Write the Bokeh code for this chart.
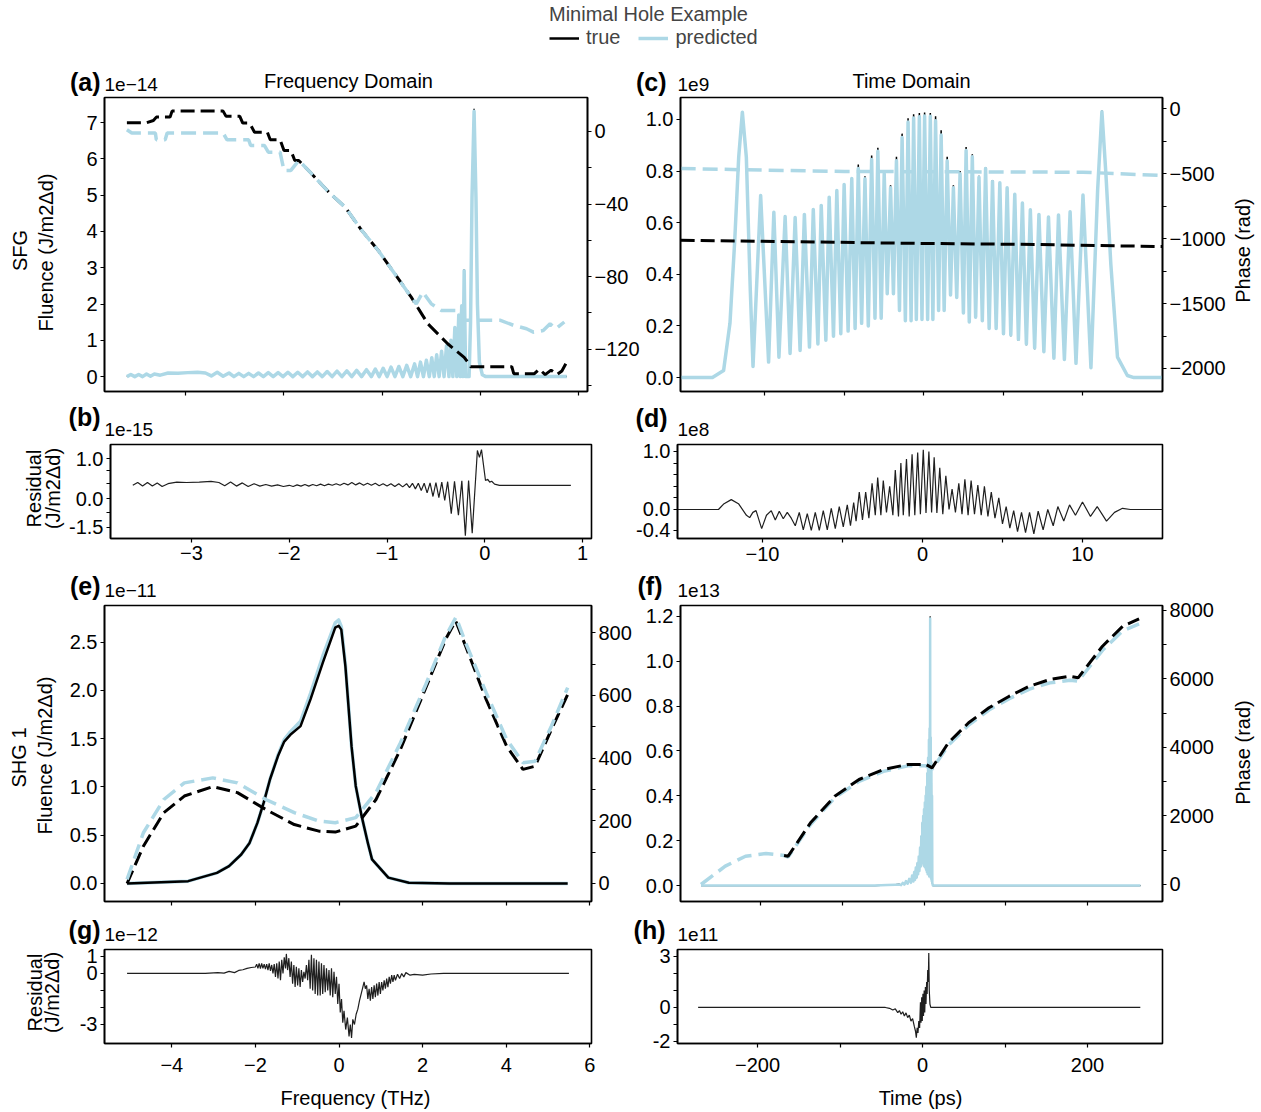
from math import pi
from bokeh.plotting import figure
from bokeh.models import Range1d, LinearAxis, FixedTicker, Label, Legend, LegendItem
from bokeh.layouts import column, row
from bokeh.embed import file_html
from bokeh.resources import INLINE

FONT = "Liberation Sans"
BLUE = "#add8e6"
BLACK = "#000000"
RES = "#1f1f1f"

# ---------------------------------------------------------------- data
# (a) SFG, frequency domain: (frequency THz, true, predicted) fluence x1e-14
SFG_FREQ_INTENSITY = [
    (-3.60, 0.00, 0.00), (-3.56, 0.06, 0.06), (-3.52, 0.00, 0.00), (-3.48, 0.06, 0.06),
    (-3.44, 0.00, 0.00), (-3.40, 0.07, 0.07), (-3.36, 0.01, 0.01), (-3.32, 0.07, 0.07),
    (-3.26, 0.04, 0.04), (-3.18, 0.10, 0.10), (-3.08, 0.09, 0.09), (-2.98, 0.11, 0.11),
    (-2.88, 0.12, 0.12), (-2.80, 0.10, 0.10), (-2.74, 0.02, 0.02), (-2.68, 0.12, 0.12),
    (-2.62, 0.01, 0.01), (-2.56, 0.10, 0.10), (-2.51, 0.00, 0.00), (-2.46, 0.09, 0.09),
    (-2.41, 0.00, 0.00), (-2.36, 0.09, 0.09), (-2.31, 0.00, 0.00), (-2.26, 0.10, 0.10),
    (-2.21, 0.00, 0.00), (-2.16, 0.11, 0.11), (-2.11, 0.00, 0.00), (-2.06, 0.11, 0.11),
    (-2.01, 0.00, 0.00), (-1.96, 0.12, 0.12), (-1.91, 0.00, 0.00), (-1.86, 0.12, 0.12),
    (-1.81, 0.00, 0.00), (-1.76, 0.13, 0.13), (-1.71, 0.00, 0.00), (-1.66, 0.13, 0.13),
    (-1.61, 0.00, 0.00), (-1.56, 0.14, 0.14), (-1.51, 0.00, 0.00), (-1.46, 0.15, 0.15),
    (-1.41, 0.00, 0.00), (-1.36, 0.16, 0.16), (-1.31, 0.00, 0.00), (-1.26, 0.17, 0.17),
    (-1.21, 0.00, 0.00), (-1.16, 0.19, 0.19), (-1.11, 0.00, 0.00), (-1.07, 0.21, 0.21),
    (-1.03, 0.00, 0.00), (-0.99, 0.23, 0.23), (-0.95, 0.00, 0.00), (-0.91, 0.26, 0.26),
    (-0.87, 0.00, 0.00), (-0.83, 0.28, 0.28), (-0.79, 0.00, 0.00), (-0.75, 0.31, 0.31),
    (-0.71, 0.00, 0.00), (-0.67, 0.35, 0.35), (-0.64, 0.00, 0.00), (-0.61, 0.40, 0.40),
    (-0.58, 0.00, 0.00), (-0.55, 0.45, 0.45), (-0.52, 0.00, 0.00), (-0.495, 0.52, 0.52),
    (-0.47, 0.00, 0.00), (-0.445, 0.60, 0.60), (-0.42, 0.00, 0.00), (-0.395, 0.70, 0.70),
    (-0.37, 0.00, 0.00), (-0.345, 0.86, 0.85), (-0.32, 0.00, 0.00), (-0.30, 1.02, 1.00),
    (-0.28, 0.00, 0.00), (-0.26, 1.37, 1.35), (-0.24, 0.00, 0.00), (-0.22, 1.72, 1.70),
    (-0.205, 0.00, 0.00), (-0.19, 1.97, 1.95), (-0.178, 0.00, 0.00), (-0.165, 2.96, 2.92),
    (-0.15, 0.00, 0.00), (-0.115, 0.00, 0.00), (-0.10, 1.50, 1.50), (-0.085, 5.00, 4.95),
    (-0.064, 7.38, 7.31), (-0.045, 5.00, 4.95), (-0.03, 2.00, 2.00), (-0.01, 0.40, 0.40),
    (0.02, 0.05, 0.05), (0.055, 0.00, 0.00), (0.88, 0.00, 0.00),
]
# (a) phase (rad): (frequency, phase)
SFG_FREQ_PHASE_TRUE = [
    (-3.60, 4.8), (-3.40, 4.8), (-3.33, 6.0), (-3.30, 7.9), (-3.16, 7.9), (-3.14, 11.2),
    (-2.62, 11.2), (-2.59, 8.3), (-2.45, 8.3), (-2.42, 4.6), (-2.35, 4.6), (-2.30, -0.4),
    (-2.17, -0.4), (-2.14, -4.6), (-2.04, -4.6), (-2.00, -10.5), (-1.93, -10.5), (-1.89, -16.0),
    (-1.85, -16.0), (-1.75, -21.5), (-1.545, -33.4), (-1.377, -41.7), (-1.209, -54.5),
    (-1.04, -65.6), (-0.872, -78.4), (-0.704, -91.3), (-0.62, -98.6), (-0.535, -106.0),
    (-0.40, -113.3), (-0.333, -117.0), (-0.249, -120.8), (-0.165, -124.5), (-0.114, -128.1),
    (-0.10, -129.6), (0.32, -129.6), (0.34, -133.5), (0.55, -133.5), (0.60, -131.0),
    (0.66, -134.0), (0.72, -131.5), (0.78, -134.0), (0.83, -132.0), (0.87, -128.0),
]
SFG_FREQ_PHASE_PRED = [
    (-3.60, 0.9), (-3.55, -0.9), (-3.31, -0.9), (-3.30, -4.6), (-3.21, -4.6), (-3.19, -0.9),
    (-2.62, -0.9), (-2.58, -4.6), (-2.36, -4.6), (-2.34, -7.7), (-2.20, -7.7), (-2.16, -11.4),
    (-2.04, -11.4), (-2.00, -21.5), (-1.93, -21.5), (-1.85, -16.0), (-1.75, -21.5),
    (-1.545, -33.4), (-1.377, -41.7), (-1.209, -54.5), (-1.04, -65.6), (-0.872, -78.4),
    (-0.704, -91.3), (-0.653, -95.0), (-0.586, -88.5), (-0.50, -95.0), (-0.40, -98.6),
    (-0.20, -98.6), (-0.165, -104.1), (0.205, -104.1), (0.34, -106.9), (0.47, -108.7),
    (0.54, -110.6), (0.64, -109.7), (0.71, -106.0), (0.77, -108.7), (0.855, -105.0),
]
# (b) SFG frequency residual x1e-15
SFG_FREQ_RESIDUAL = [
    (-3.60, 0.33), (-3.55, 0.40), (-3.50, 0.31), (-3.45, 0.40), (-3.40, 0.31), (-3.35, 0.39),
    (-3.30, 0.30), (-3.24, 0.37), (-3.15, 0.41), (-3.05, 0.40), (-2.92, 0.41), (-2.80, 0.43),
    (-2.72, 0.40), (-2.66, 0.32), (-2.60, 0.41), (-2.54, 0.31), (-2.48, 0.39), (-2.42, 0.30),
    (-2.36, 0.37), (-2.30, 0.31), (-2.24, 0.35), (-2.18, 0.31), (-2.12, 0.34), (-2.06, 0.30),
    (-2.00, 0.33), (-1.96, 0.30), (-1.92, 0.34), (-1.88, 0.31), (-1.84, 0.35), (-1.80, 0.31),
    (-1.76, 0.35), (-1.72, 0.32), (-1.68, 0.36), (-1.64, 0.32), (-1.60, 0.36), (-1.56, 0.33),
    (-1.52, 0.37), (-1.48, 0.33), (-1.44, 0.38), (-1.40, 0.34), (-1.36, 0.40), (-1.32, 0.34),
    (-1.28, 0.39), (-1.24, 0.33), (-1.20, 0.38), (-1.16, 0.33), (-1.12, 0.38), (-1.08, 0.32),
    (-1.04, 0.37), (-1.00, 0.31), (-0.96, 0.37), (-0.92, 0.30), (-0.88, 0.37), (-0.84, 0.29),
    (-0.80, 0.37), (-0.77, 0.27), (-0.74, 0.38), (-0.71, 0.24), (-0.68, 0.38), (-0.65, 0.20),
    (-0.62, 0.38), (-0.59, 0.14), (-0.56, 0.39), (-0.53, 0.05), (-0.50, 0.40), (-0.47, 0.02),
    (-0.44, 0.41), (-0.41, -0.05), (-0.38, 0.42), (-0.343, -0.38), (-0.31, 0.43), (-0.27, -0.42),
    (-0.235, 0.44), (-0.199, -0.93), (-0.166, 0.45), (-0.129, -0.87), (-0.076, 1.20),
    (-0.055, 1.03), (-0.034, 1.22), (0.007, 0.45), (0.03, 0.48), (0.05, 0.41), (0.07, 0.43),
    (0.10, 0.36), (0.15, 0.33), (0.88, 0.33),
]
# (c) SFG time domain: (time ps, true, predicted) x1e9
SFG_TIME_INTENSITY = [
    (-15.30, 0.000, 0.000), (-13.30, 0.000, 0.000), (-12.60, 0.027, 0.027), (-12.20, 0.210, 0.210),
    (-11.90, 0.530, 0.530), (-11.65, 0.854, 0.854), (-11.42, 1.030, 1.028), (-11.17, 0.854, 0.854),
    (-10.92, 0.337, 0.337), (-10.75, 0.043, 0.043), (-10.27, 0.705, 0.705), (-9.77, 0.060, 0.060),
    (-9.44, 0.640, 0.640), (-9.12, 0.079, 0.079), (-8.73, 0.630, 0.624), (-8.42, 0.093, 0.093),
    (-8.10, 0.620, 0.620), (-7.79, 0.105, 0.105), (-7.52, 0.632, 0.632), (-7.20, 0.118, 0.118),
    (-6.96, 0.651, 0.651), (-6.67, 0.130, 0.130), (-6.46, 0.667, 0.667), (-6.17, 0.145, 0.145),
    (-5.96, 0.699, 0.699), (-5.69, 0.160, 0.160), (-5.48, 0.725, 0.725), (-5.23, 0.170, 0.170),
    (-5.02, 0.748, 0.748), (-4.77, 0.180, 0.180), (-4.54, 0.771, 0.771), (-4.33, 0.190, 0.190),
    (-4.13, 0.825, 0.810), (-3.92, 0.210, 0.210), (-3.71, 0.780, 0.770), (-3.50, 0.200, 0.200),
    (-3.29, 0.860, 0.845), (-3.08, 0.230, 0.230), (-2.90, 0.890, 0.877), (-2.69, 0.230, 0.230),
    (-2.50, 0.800, 0.790), (-2.31, 0.325, 0.325), (-2.10, 0.745, 0.735), (-1.92, 0.325, 0.325),
    (-1.73, 0.855, 0.840), (-1.54, 0.260, 0.260), (-1.375, 0.945, 0.930), (-1.17, 0.220, 0.220),
    (-1.00, 1.005, 0.990), (-0.81, 0.220, 0.220), (-0.65, 1.020, 1.006), (-0.48, 0.225, 0.225),
    (-0.29, 1.025, 1.010), (-0.125, 0.225, 0.225), (0.04, 1.027, 1.013), (0.23, 0.225, 0.225),
    (0.40, 1.025, 1.012), (0.56, 0.225, 0.225), (0.73, 1.012, 0.995), (0.92, 0.260, 0.260),
    (1.08, 0.958, 0.940), (1.27, 0.260, 0.260), (1.46, 0.855, 0.840), (1.67, 0.320, 0.320),
    (1.85, 0.745, 0.735), (2.06, 0.310, 0.310), (2.27, 0.800, 0.790), (2.48, 0.250, 0.250),
    (2.65, 0.893, 0.880), (2.85, 0.215, 0.215), (3.04, 0.865, 0.855), (3.25, 0.234, 0.234),
    (3.46, 0.782, 0.776), (3.67, 0.220, 0.220), (3.875, 0.815, 0.810), (4.10, 0.190, 0.190),
    (4.31, 0.765, 0.760), (4.54, 0.185, 0.190), (4.77, 0.758, 0.755), (5.00, 0.165, 0.170),
    (5.23, 0.738, 0.735), (5.46, 0.160, 0.165), (5.71, 0.712, 0.710), (5.94, 0.143, 0.148),
    (6.19, 0.678, 0.676), (6.44, 0.125, 0.130), (6.69, 0.652, 0.650), (6.96, 0.110, 0.115),
    (7.23, 0.634, 0.632), (7.54, 0.095, 0.100), (7.83, 0.624, 0.622), (8.17, 0.072, 0.075),
    (8.46, 0.632, 0.630), (8.83, 0.068, 0.070), (9.19, 0.645, 0.642), (9.56, 0.053, 0.055),
    (10.00, 0.710, 0.707), (10.50, 0.038, 0.038), (10.92, 0.725, 0.725), (11.19, 1.034, 1.030),
    (11.44, 0.790, 0.790), (11.75, 0.440, 0.440), (12.17, 0.079, 0.079), (12.79, 0.008, 0.008),
    (13.20, 0.000, 0.000), (15.00, 0.000, 0.000),
]
SFG_TIME_PHASE_TRUE = [(-15.3, -1013), (-1.4, -1036), (7.0, -1046), (15.0, -1062)]
SFG_TIME_PHASE_PRED = [(-15.3, -462), (-5.0, -484), (10.0, -490), (15.0, -515)]
# (d) SFG time residual x1e8
SFG_TIME_RESIDUAL = [
    (-15.3, 0.00), (-12.75, 0.00), (-12.4, 0.10), (-11.95, 0.17), (-11.5, 0.10), (-11.0, -0.10),
    (-10.8, -0.14), (-10.6, -0.05), (-10.4, -0.02), (-10.05, -0.33), (-9.75, -0.10), (-9.45, -0.02),
    (-9.2, -0.18), (-8.95, -0.03), (-8.7, -0.16), (-8.45, -0.05), (-8.2, -0.15), (-7.95, -0.28),
    (-7.7, -0.05), (-7.45, -0.35), (-7.2, -0.07), (-6.95, -0.36), (-6.7, -0.05), (-6.45, -0.36),
    (-6.2, -0.02), (-5.95, -0.35), (-5.7, 0.02), (-5.45, -0.33), (-5.2, 0.05), (-4.95, -0.30),
    (-4.7, 0.08), (-4.5, -0.28), (-4.3, 0.12), (-4.15, -0.20), (-3.95, 0.30), (-3.75, -0.18),
    (-3.55, 0.30), (-3.35, -0.15), (-3.15, 0.45), (-2.95, -0.10), (-2.8, 0.55), (-2.6, -0.10),
    (-2.45, 0.50), (-2.25, -0.05), (-2.05, 0.40), (-1.85, -0.10), (-1.7, 0.68), (-1.5, -0.12),
    (-1.35, 0.80), (-1.2, -0.10), (-1.0, 0.87), (-0.83, -0.12), (-0.65, 0.95), (-0.48, -0.10),
    (-0.3, 0.98), (-0.13, -0.08), (0.05, 1.03), (0.22, -0.06), (0.4, 1.00), (0.57, -0.05),
    (0.73, 0.90), (0.9, -0.06), (1.08, 0.72), (1.27, -0.08), (1.46, 0.58), (1.66, 0.00),
    (1.85, 0.35), (2.06, -0.05), (2.27, 0.45), (2.47, -0.08), (2.65, 0.52), (2.85, -0.10),
    (3.04, 0.50), (3.25, -0.08), (3.46, 0.42), (3.67, -0.10), (3.87, 0.40), (4.09, -0.12),
    (4.3, 0.30), (4.53, -0.15), (4.77, 0.20), (5.0, -0.25), (5.23, 0.05), (5.46, -0.32),
    (5.7, -0.02), (5.94, -0.38), (6.19, -0.05), (6.44, -0.40), (6.69, -0.05), (6.96, -0.42),
    (7.23, -0.03), (7.54, -0.35), (7.83, 0.00), (8.17, -0.28), (8.46, 0.05), (8.83, -0.20),
    (9.19, 0.08), (9.56, -0.10), (10.0, 0.13), (10.5, -0.12), (10.92, 0.05), (11.5, -0.20),
    (12.0, -0.05), (12.5, 0.02), (13.0, 0.00), (15.0, 0.00),
]
# (e) SHG 1 frequency domain: (frequency, true, predicted) x1e-11
SHG_FREQ_INTENSITY = [
    (-5.07, 0.000, 0.000), (-3.61, 0.024, 0.024), (-2.92, 0.110, 0.110), (-2.63, 0.180, 0.180),
    (-2.34, 0.300, 0.300), (-2.14, 0.420, 0.420), (-1.95, 0.630, 0.630), (-1.80, 0.840, 0.840),
    (-1.65, 1.080, 1.080), (-1.46, 1.320, 1.330), (-1.31, 1.470, 1.490), (-1.165, 1.540, 1.570),
    (-0.92, 1.630, 1.680), (-0.68, 1.910, 1.970), (-0.385, 2.290, 2.360), (-0.09, 2.650, 2.700),
    (-0.01, 2.670, 2.730), (0.055, 2.630, 2.660), (0.153, 2.250, 2.270), (0.30, 1.420, 1.420),
    (0.40, 1.010, 1.010), (0.54, 0.700, 0.700), (0.69, 0.420, 0.420), (0.79, 0.250, 0.250),
    (1.18, 0.060, 0.060), (1.67, 0.007, 0.007), (2.64, 0.000, 0.000), (5.47, 0.000, 0.000),
]
SHG_FREQ_PHASE_TRUE = [
    (-5.07, 0), (-4.68, 119), (-4.19, 226), (-3.70, 279), (-3.02, 309), (-2.43, 290),
    (-1.75, 236), (-1.07, 188), (-0.48, 167), (-0.09, 164), (0.40, 183), (0.885, 268),
    (1.47, 428), (2.06, 619), (2.55, 779), (2.79, 838), (3.03, 757), (3.52, 587), (4.01, 438),
    (4.40, 364), (4.69, 374), (5.08, 491), (5.47, 603),
]
SHG_FREQ_PHASE_PRED = [
    (-5.07, 13), (-4.68, 162), (-4.19, 268), (-3.70, 321), (-3.02, 337), (-2.43, 321),
    (-1.75, 268), (-1.07, 226), (-0.48, 199), (-0.09, 194), (0.40, 210), (0.885, 290),
    (1.47, 449), (2.06, 630), (2.55, 789), (2.80, 850), (3.03, 768), (3.52, 609), (4.01, 460),
    (4.40, 385), (4.69, 390), (5.08, 502), (5.47, 625),
]
# (f) SHG 1 time domain: (time ps, true, predicted) x1e13
SHG_TIME_INTENSITY = [
    (-272, 0.000, 0.000), (-60, 0.000, 0.000), (-45, 0.002, 0.002), (-35, 0.004, 0.004),
    (-30, 0.006, 0.005), (-28, 0.002, 0.002), (-26, 0.012, 0.012), (-24, 0.004, 0.004),
    (-22, 0.020, 0.020), (-20, 0.008, 0.008), (-18, 0.030, 0.030), (-16, 0.012, 0.012),
    (-14.5, 0.045, 0.045), (-13, 0.018, 0.018), (-12, 0.060, 0.060), (-11, 0.025, 0.025),
    (-10, 0.080, 0.080), (-9, 0.035, 0.035), (-8, 0.100, 0.100), (-7.2, 0.050, 0.050),
    (-6.4, 0.130, 0.130), (-5.6, 0.065, 0.065), (-4.8, 0.170, 0.170), (-4.0, 0.085, 0.085),
    (-3.3, 0.220, 0.220), (-2.6, 0.100, 0.100), (-2.0, 0.280, 0.280), (-1.5, 0.100, 0.100),
    (-1.0, 0.310, 0.310), (-0.5, 0.090, 0.090), (0.0, 0.340, 0.340), (0.5, 0.085, 0.085),
    (1.0, 0.370, 0.370), (1.5, 0.080, 0.080), (2.0, 0.400, 0.400), (2.5, 0.070, 0.070),
    (3.0, 0.440, 0.440), (3.5, 0.060, 0.060), (4.0, 0.500, 0.500), (4.5, 0.050, 0.050),
    (5.0, 0.570, 0.570), (5.5, 0.050, 0.050), (6.0, 0.650, 0.650), (6.4, 0.040, 0.040),
    (6.8, 0.700, 0.700), (7.2, 0.040, 0.040), (7.5, 1.200, 1.190), (7.8, 0.040, 0.040),
    (8.2, 0.660, 0.660), (8.6, 0.030, 0.030), (9.0, 0.550, 0.550), (9.4, 0.020, 0.020),
    (9.8, 0.400, 0.400), (10.2, 0.010, 0.010), (10.9, 0.000, 0.000), (264, 0.000, 0.000),
]
SHG_TIME_PHASE_TRUE = [
    (-170.7, 846), (-165.7, 825), (-138.4, 1799), (-108.8, 2575), (-79.2, 3062), (-49.5, 3354),
    (-19.8, 3500), (2.4, 3500), (9.9, 3403), (29.7, 4132), (54.4, 4716), (79.2, 5153),
    (104.0, 5492), (128.7, 5784), (153.5, 5978), (178.2, 6075), (188.0, 6028), (217.7, 6950),
    (242.4, 7533), (262.3, 7748),
]
SHG_TIME_PHASE_PRED = [
    (-272, 0), (-242.4, 534), (-217.7, 825), (-192.8, 904), (-170.7, 846), (-165.7, 800),
    (-138.4, 1750), (-108.8, 2530), (-79.2, 3010), (-49.5, 3300), (-19.8, 3460), (2.4, 3460),
    (9.9, 3360), (29.7, 4060), (54.4, 4650), (79.2, 5090), (104.0, 5420), (128.7, 5700),
    (153.5, 5880), (178.2, 5960), (188.0, 5930), (217.7, 6830), (242.4, 7400), (262.3, 7600),
]
# (g) SHG 1 frequency residual x1e-12
SHG_FREQ_RESIDUAL = [
    (-5.07, 0.00), (-3.20, 0.00), (-2.90, 0.05), (-2.75, 0.02), (-2.63, 0.12), (-2.50, 0.05),
    (-2.40, 0.18), (-2.30, 0.22), (-2.20, 0.30), (-2.10, 0.35), (-2.00, 0.38), (-1.97, 0.55),
    (-1.94, 0.30), (-1.91, 0.60), (-1.88, 0.28), (-1.85, 0.60), (-1.82, 0.30), (-1.79, 0.55),
    (-1.76, 0.25), (-1.73, 0.55), (-1.70, 0.20), (-1.67, 0.60), (-1.64, 0.15), (-1.61, 0.50),
    (-1.58, 0.00), (-1.55, 0.55), (-1.52, -0.20), (-1.49, 0.60), (-1.46, -0.30), (-1.43, 0.70),
    (-1.40, -0.40), (-1.37, 0.80), (-1.34, 0.00), (-1.31, 0.95), (-1.28, 0.30), (-1.26, 1.15),
    (-1.23, 0.20), (-1.20, 0.90), (-1.17, -0.20), (-1.14, 0.70), (-1.11, -0.60), (-1.08, 0.50),
    (-1.05, -0.80), (-1.02, 0.40), (-0.99, -0.70), (-0.96, 0.30), (-0.93, -0.80), (-0.90, 0.20),
    (-0.87, -0.50), (-0.84, 0.10), (-0.81, -0.30), (-0.78, 0.50), (-0.75, -0.40), (-0.72, 0.80),
    (-0.69, -0.90), (-0.66, 1.10), (-0.63, -1.00), (-0.60, 0.90), (-0.57, -1.20), (-0.54, 0.80),
    (-0.51, -1.30), (-0.48, 0.70), (-0.45, -1.30), (-0.42, 0.60), (-0.39, -1.20), (-0.36, 0.50),
    (-0.33, -1.10), (-0.30, 0.30), (-0.27, -1.00), (-0.24, 0.20), (-0.21, -1.30), (-0.18, 0.30),
    (-0.15, -1.40), (-0.12, 0.10), (-0.09, -1.20), (-0.06, -0.20), (-0.03, -1.80), (0.00, -0.60),
    (0.03, -2.30), (0.06, -1.50), (0.09, -2.90), (0.12, -2.20), (0.16, -3.30), (0.20, -2.60),
    (0.24, -3.70), (0.27, -3.00), (0.30, -3.80), (0.33, -2.70), (0.37, -3.00), (0.41, -2.40),
    (0.45, -2.10), (0.49, -1.60), (0.53, -1.20), (0.57, -0.80), (0.60, -0.50), (0.63, -0.90),
    (0.66, -0.70), (0.69, -1.50), (0.72, -0.90), (0.75, -1.60), (0.78, -0.80), (0.81, -1.50),
    (0.84, -0.70), (0.87, -1.40), (0.90, -0.60), (0.93, -1.30), (0.96, -0.50), (0.99, -1.20),
    (1.02, -0.50), (1.05, -1.00), (1.08, -0.40), (1.11, -0.90), (1.14, -0.30), (1.17, -0.80),
    (1.20, -0.20), (1.23, -0.60), (1.26, -0.10), (1.29, -0.50), (1.32, -0.10), (1.35, -0.40),
    (1.40, -0.05), (1.45, -0.30), (1.50, 0.00), (1.55, -0.20), (1.60, 0.05), (1.70, -0.10),
    (1.80, -0.05), (2.00, -0.10), (2.20, -0.03), (2.50, 0.00), (5.50, 0.00),
]
# (h) SHG 1 time residual x1e11
SHG_TIME_RESIDUAL = [
    (-272, 0.00), (-45, 0.00), (-40, -0.05), (-36, -0.15), (-33, -0.08), (-30, -0.30),
    (-28, -0.18), (-26, -0.40), (-24, -0.25), (-22, -0.50), (-20, -0.32), (-18, -0.60),
    (-16, -0.45), (-14, -0.80), (-12, -0.65), (-10, -1.10), (-8.5, -1.40), (-7.5, -1.78),
    (-6.5, -1.20), (-5.5, -1.50), (-4.5, -0.80), (-3.5, -1.20), (-2.5, 0.30), (-1.8, -0.90),
    (-1.0, 0.60), (-0.3, -0.80), (0.5, 0.80), (1.2, -0.50), (2.0, 1.00), (2.7, -0.30),
    (3.5, 1.20), (4.2, 0.20), (5.0, 1.50), (5.6, 0.80), (6.3, 2.20), (7.0, 1.50), (7.6, 3.20),
    (8.2, 1.00), (9.0, 0.20), (10.0, 0.00), (264, 0.00),
]

# tick values and labels
A_X_TICKS = [-3, -2, -1, 0, 1]
A_X_LABELS = ["\u22123", "\u22122", "\u22121", "0", "1"]
A_Y_TICKS = [0, 1, 2, 3, 4, 5, 6, 7]
A_Y_LABELS = ["0", "1", "2", "3", "4", "5", "6", "7"]
A_PH_TICKS = [0, -40, -80, -120]
A_PH_LABELS = ["0", "\u221240", "\u221280", "\u2212120"]
A_PH_MINOR = [-20, -60, -100, -140]
B_Y_TICKS = [1.0, 0.0, -0.72]
B_Y_LABELS = ["1.0", "0.0", "-1.5"]
B_Y_MINOR = [0.7, 0.37, -0.34]
C_X_TICKS = [-10, -5, 0, 5, 10]
C_Y_TICKS = [0.0, 0.2, 0.4, 0.6, 0.8, 1.0]
C_Y_LABELS = ["0.0", "0.2", "0.4", "0.6", "0.8", "1.0"]
C_PH_TICKS = [0, -500, -1000, -1500, -2000]
C_PH_LABELS = ["0", "\u2212500", "\u22121000", "\u22121500", "\u22122000"]
C_PH_MINOR = [-250, -750, -1250, -1750]
D_X_TICKS = [-10, 0, 10]
D_X_LABELS = ["\u221210", "0", "10"]
D_X_MINOR = [-5, 5]
D_Y_TICKS = [1.0, 0.0, -0.36]
D_Y_LABELS = ["1.0", "0.0", "-0.4"]
D_Y_MINOR = [0.8, 0.6, 0.4, 0.2]
E_X_TICKS = [-4, -2, 0, 2, 4, 6]
E_X_LABELS = ["\u22124", "\u22122", "0", "2", "4", "6"]
E_Y_TICKS = [0.0, 0.5, 1.0, 1.5, 2.0, 2.5]
E_Y_LABELS = ["0.0", "0.5", "1.0", "1.5", "2.0", "2.5"]
E_PH_TICKS = [0, 200, 400, 600, 800]
E_PH_LABELS = ["0", "200", "400", "600", "800"]
E_PH_MINOR = [100, 300, 500, 700]
F_X_TICKS = [-200, -100, 0, 100, 200]
F_Y_TICKS = [0.0, 0.2, 0.4, 0.6, 0.8, 1.0, 1.2]
F_Y_LABELS = ["0.0", "0.2", "0.4", "0.6", "0.8", "1.0", "1.2"]
F_PH_TICKS = [0, 2000, 4000, 6000, 8000]
F_PH_LABELS = ["0", "2000", "4000", "6000", "8000"]
F_PH_MINOR = [1000, 3000, 5000, 7000]
G_Y_TICKS = [1, 0, -3]
G_Y_LABELS = ["1", "0", "-3"]
G_Y_MINOR = [-1, -2]
H_X_TICKS = [-200, 0, 200]
H_X_LABELS = ["\u2212200", "0", "200"]
H_X_MINOR = [-100, 100]
H_Y_TICKS = [3, 0, -2]
H_Y_LABELS = ["3", "0", "-2"]
H_Y_MINOR = [2, 1, -1]


# ---------------------------------------------------------------- helpers
def cols(rows):
    return [list(c) for c in zip(*rows)]


def make_fig(w, h, bl, br, bt, bb, xr, yr):
    p = figure(width=w, height=h, x_range=Range1d(*xr), y_range=Range1d(*yr),
               min_border_left=bl, min_border_right=br, min_border_top=bt, min_border_bottom=bb,
               output_backend="svg", toolbar_location=None, tools="")
    p.xgrid.visible = False
    p.ygrid.visible = False
    p.outline_line_color = "black"
    p.outline_line_width = 1.6
    p.background_fill_color = "white"
    p.border_fill_color = "white"
    return p


def text_fig(w, h, bt=0, bb=0):
    p = figure(width=w, height=h, x_range=Range1d(0, 1), y_range=Range1d(0, 1),
               min_border_left=0, min_border_right=0, min_border_top=bt, min_border_bottom=bb,
               x_axis_location=None, y_axis_location=None,
               output_backend="svg", toolbar_location=None, tools="")
    p.grid.visible = False
    p.outline_line_color = None
    p.background_fill_color = "white"
    p.border_fill_color = "white"
    return p


def style_axis(ax, ticks, labels=None, minor=(), standoff=3):
    ax.ticker = FixedTicker(ticks=list(ticks), minor_ticks=list(minor))
    if labels is None:
        ax.major_label_overrides = {t: "" for t in ticks}
        ax.major_label_text_font_size = "0px"
    else:
        ax.major_label_overrides = {t: s for t, s in zip(ticks, labels)}
        ax.major_label_text_font_size = "20px"
    ax.major_label_text_font = FONT
    ax.major_label_text_color = "black"
    ax.major_label_standoff = standoff
    ax.major_tick_in = 0
    ax.major_tick_out = 4
    ax.minor_tick_in = 0
    ax.minor_tick_out = 4
    ax.axis_line_color = "black"
    ax.axis_line_width = 1.6
    ax.major_tick_line_color = "black"
    ax.major_tick_line_width = 1.2
    ax.minor_tick_line_color = "black"
    ax.minor_tick_line_width = 1.2


def add_right(p, rng, ticks, labels, minor):
    p.extra_y_ranges = {"ph": Range1d(*rng)}
    ax = LinearAxis(y_range_name="ph")
    style_axis(ax, ticks, labels, minor)
    p.add_layout(ax, "right")


def txt(p, x, y, s, size="20px", bold=False, align="left", angle=0.0, baseline="middle"):
    p.add_layout(Label(x=x, y=y, x_units="screen", y_units="screen", text=s,
                       text_font=FONT, text_font_size=size,
                       text_font_style="bold" if bold else "normal",
                       text_align=align, text_baseline=baseline, angle=angle,
                       text_color="black"))


def offset_txt(p, x, y, s):
    txt(p, x, y, s, "19px", False, "left")


def panel_txt(p, x, y, s):
    txt(p, x, y, s, "25px", True, "right")


def vtxt(p, x, y, s):
    txt(p, x, y, s, "20px", False, "center", pi / 2)


# ---------------------------------------------------------------- header / legend
f_a, it_a, ip_a = cols(SFG_FREQ_INTENSITY)
hdr = text_fig(1261, 58)
r_true = hdr.line(x=f_a[:1], y=it_a[:1], color=BLACK, line_width=2.5)
r_pred = hdr.line(x=f_a[:1], y=ip_a[:1], color=BLUE, line_width=3.5)
leg = Legend(items=[LegendItem(label="true", renderers=[r_true]),
                    LegendItem(label="predicted", renderers=[r_pred])],
             location=(549, 9), orientation="horizontal", title="Minimal Hole Example",
             title_text_font=FONT, title_text_font_size="20px", title_text_font_style="normal",
             label_text_font=FONT, label_text_font_size="20px",
             glyph_width=30, glyph_height=18, label_height=18, label_standoff=7, spacing=18,
             padding=0, margin=0, border_line_color=None, background_fill_alpha=0,
             title_standoff=0)
hdr.add_layout(leg)

# ---------------------------------------------------------------- text rows
t1 = text_fig(1261, 38)
panel_txt(t1, 100, 15, "(a)")
offset_txt(t1, 104, 12, "1e\u221214")
txt(t1, 348, 16, "Frequency Domain", "20px", False, "center")
panel_txt(t1, 666, 15, "(c)")
offset_txt(t1, 677, 12, "1e9")
txt(t1, 911, 16, "Time Domain", "20px", False, "center")

t2 = text_fig(1261, 40)
panel_txt(t2, 100, 24, "(b)")
offset_txt(t2, 104, 11, "1e-15")
panel_txt(t2, 667, 23, "(d)")
offset_txt(t2, 677, 11, "1e8")

t3 = text_fig(1261, 31)
panel_txt(t3, 100, 16, "(e)")
offset_txt(t3, 104, 11, "1e\u221211")
panel_txt(t3, 662, 16, "(f)")
offset_txt(t3, 677, 11, "1e13")

t4 = text_fig(1261, 31)
panel_txt(t4, 100, 16, "(g)")
offset_txt(t4, 104, 11, "1e\u221212")
panel_txt(t4, 665, 16, "(h)")
offset_txt(t4, 677, 11, "1e11")

t5 = text_fig(1261, 30)
txt(t5, 355, 12, "Frequency (THz)", "20px", False, "center")
txt(t5, 920, 12, "Time (ps)", "20px", False, "center")

# y-label strips (borders equal to the panels of their row)
ya = text_fig(66, 304, 1, 9)
vtxt(ya, 19, 141, "SFG")
vtxt(ya, 45, 139, "Fluence (J/m2\u0394d)")
yc = text_fig(33, 304, 1, 9)
vtxt(yc, 14, 141, "Phase (rad)")
yb = text_fig(66, 130, 4, 32)
vtxt(yb, 33, 50, "Residual")
vtxt(yb, 52, 50, "(J/m2\u0394d)")
ye = text_fig(66, 313, 4, 13)
vtxt(ye, 18, 144, "SHG 1")
vtxt(ye, 44, 146, "Fluence (J/m2\u0394d)")
yf = text_fig(33, 313, 4, 13)
vtxt(yf, 14, 149, "Phase (rad)")
yg = text_fig(66, 134, 4, 36)
vtxt(yg, 34, 51, "Residual")
vtxt(yg, 51, 51, "(J/m2\u0394d)")

# ---------------------------------------------------------------- (a)
fa = make_fig(576, 304, 38, 51, 1, 9, (-3.828, 1.091), (-0.41, 7.69))
style_axis(fa.xaxis[0], A_X_TICKS)
style_axis(fa.yaxis[0], A_Y_TICKS, A_Y_LABELS)
add_right(fa, (-143.3, 18.7), A_PH_TICKS, A_PH_LABELS, A_PH_MINOR)
fa.line(f_a, it_a, color=BLACK, line_width=1.5)
fa.line(f_a, ip_a, color=BLUE, line_width=3.5, line_join="round")
x, y = cols(SFG_FREQ_PHASE_TRUE)
fa.line(x, y, y_range_name="ph", color=BLACK, line_width=3, line_dash="14 6")
x, y = cols(SFG_FREQ_PHASE_PRED)
fa.line(x, y, y_range_name="ph", color=BLUE, line_width=3.5, line_dash="15 7")

# ---------------------------------------------------------------- (c)
fc = make_fig(586, 304, 35, 66, 1, 9, (-15.31, 15.0), (-0.054, 1.085))
style_axis(fc.xaxis[0], C_X_TICKS)
style_axis(fc.yaxis[0], C_Y_TICKS, C_Y_LABELS)
add_right(fc, (-2177, 85), C_PH_TICKS, C_PH_LABELS, C_PH_MINOR)
t, it, ip = cols(SFG_TIME_INTENSITY)
fc.line(t, it, color=BLACK, line_width=1.5)
fc.line(t, ip, color=BLUE, line_width=3.5, line_join="round")
x, y = cols(SFG_TIME_PHASE_TRUE)
fc.line(x, y, y_range_name="ph", color=BLACK, line_width=3, line_dash="14 6")
x, y = cols(SFG_TIME_PHASE_PRED)
fc.line(x, y, y_range_name="ph", color=BLUE, line_width=3.5, line_dash="15 7")

# ---------------------------------------------------------------- (b)
fb = make_fig(534, 130, 38, 9, 4, 32, (-3.828, 1.091), (-1.0, 1.35))
style_axis(fb.xaxis[0], A_X_TICKS, A_X_LABELS, standoff=3)
style_axis(fb.yaxis[0], B_Y_TICKS, B_Y_LABELS, B_Y_MINOR)
x, y = cols(SFG_FREQ_RESIDUAL)
fb.line(x, y, color=RES, line_width=1.2)

# ---------------------------------------------------------------- (d)
fd = make_fig(661, 130, 77, 99, 4, 32, (-15.31, 15.0), (-0.5, 1.12))
style_axis(fd.xaxis[0], D_X_TICKS, D_X_LABELS, D_X_MINOR, standoff=4)
style_axis(fd.yaxis[0], D_Y_TICKS, D_Y_LABELS, D_Y_MINOR)
x, y = cols(SFG_TIME_RESIDUAL)
fd.line(x, y, color=RES, line_width=1.2)

# ---------------------------------------------------------------- (e)
fe = make_fig(576, 313, 38, 51, 4, 13, (-5.61, 6.04), (-0.187, 2.88))
style_axis(fe.xaxis[0], E_X_TICKS)
style_axis(fe.yaxis[0], E_Y_TICKS, E_Y_LABELS)
add_right(fe, (-57.5, 887), E_PH_TICKS, E_PH_LABELS, E_PH_MINOR)
f, it, ip = cols(SHG_FREQ_INTENSITY)
fe.line(f, ip, color=BLUE, line_width=3.5, line_join="round")
fe.line(f, it, color=BLACK, line_width=2.5, line_join="round")
x, y = cols(SHG_FREQ_PHASE_TRUE)
fe.line(x, y, y_range_name="ph", color=BLACK, line_width=3, line_dash="14 6")
x, y = cols(SHG_FREQ_PHASE_PRED)
fe.line(x, y, y_range_name="ph", color=BLUE, line_width=3.5, line_dash="15 7")

# ---------------------------------------------------------------- (f)
ff = make_fig(586, 313, 35, 66, 4, 13, (-297, 290.9), (-0.071, 1.248))
style_axis(ff.xaxis[0], F_X_TICKS)
style_axis(ff.yaxis[0], F_Y_TICKS, F_Y_LABELS)
add_right(ff, (-496, 8137), F_PH_TICKS, F_PH_LABELS, F_PH_MINOR)
t, it, ip = cols(SHG_TIME_INTENSITY)
ff.line(t, it, color=BLACK, line_width=1.2)
ff.line(t, ip, color=BLUE, line_width=2.5, line_join="round")
x, y = cols(SHG_TIME_PHASE_PRED)
ff.line(x, y, y_range_name="ph", color=BLUE, line_width=3.5, line_dash="15 7")
x, y = cols(SHG_TIME_PHASE_TRUE)
ff.line(x, y, y_range_name="ph", color=BLACK, line_width=3, line_dash="14 6")

# ---------------------------------------------------------------- (g)
fg = make_fig(534, 134, 38, 9, 4, 36, (-5.61, 6.04), (-4.12, 1.41))
style_axis(fg.xaxis[0], E_X_TICKS, E_X_LABELS, standoff=10)
style_axis(fg.yaxis[0], G_Y_TICKS, G_Y_LABELS, G_Y_MINOR)
x, y = cols(SHG_FREQ_RESIDUAL)
fg.line(x, y, color=RES, line_width=1.2)

# ---------------------------------------------------------------- (h)
fh = make_fig(661, 134, 77, 99, 4, 36, (-297, 290.9), (-2.12, 3.41))
style_axis(fh.xaxis[0], H_X_TICKS, H_X_LABELS, H_X_MINOR, standoff=10)
style_axis(fh.yaxis[0], H_Y_TICKS, H_Y_LABELS, H_Y_MINOR)
x, y = cols(SHG_TIME_RESIDUAL)
fh.line(x, y, color=RES, line_width=1.2)

layout = column(hdr, t1, row(ya, fa, fc, yc), t2, row(yb, fb, fd), t3,
                row(ye, fe, ff, yf), t4, row(yg, fg, fh), t5)
open("out.html", "w").write(file_html(layout, INLINE))
